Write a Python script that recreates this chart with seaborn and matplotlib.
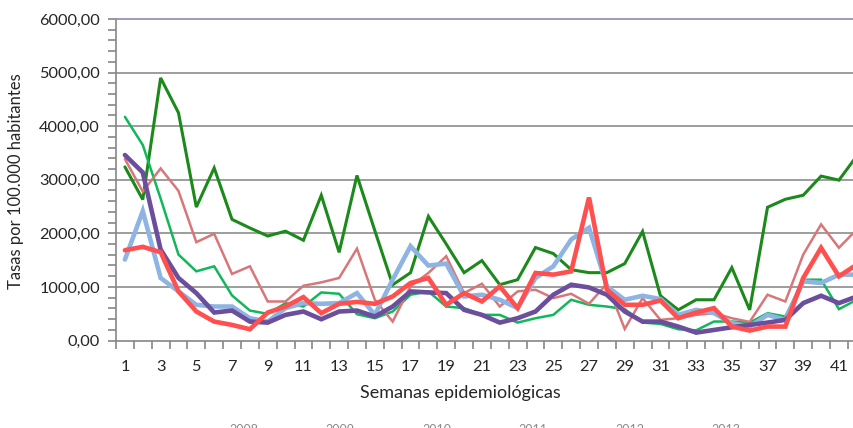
import numpy as np
import pandas as pd
import matplotlib
matplotlib.use("Agg")
import matplotlib.pyplot as plt
import matplotlib.ticker as mticker
import seaborn as sns

weeks = list(range(1, 43))

serie_2008 = [3240, 2630, 4900, 4250, 2490, 3220, 2260, 2100, 1950, 2040, 1870, 2710,
              1645, 3080, 2050, 1040, 1265, 2317, 1800, 1266, 1491, 1041, 1135, 1735,
              1622, 1322, 1266, 1266, 1435, 2036, 835, 572, 760, 760, 1360, 572,
              2486, 2636, 2711, 3068, 2993, 3443]
serie_2009 = [4174, 3649, 2650, 1604, 1291, 1385, 841, 559, 497, 697, 634, 897,
              872, 490, 416, 541, 854, 916, 634, 604, 478, 478, 334, 416,
              478, 760, 666, 634, 585, 334, 310, 210, 190, 354, 354, 334,
              510, 447, 1135, 1135, 585, 760]
serie_2010 = [3386, 2780, 3211, 2792, 1835, 1992, 1242, 1385, 728, 728, 1022, 1085,
              1167, 1715, 760, 353, 1010, 1260, 1573, 885, 1060, 634, 916, 947,
              791, 872, 685, 1060, 216, 791, 385, 416, 478, 510, 416, 347,
              854, 728, 1604, 2167, 1730, 2073]
serie_2011 = [1510, 2416, 1167, 916, 666, 634, 634, 416, 353, 604, 698, 685,
              698, 885, 478, 1135, 1760, 1398, 1435, 822, 854, 760, 604, 1167,
              1385, 1885, 2105, 1010, 760, 835, 773, 478, 572, 510, 322, 260,
              478, 385, 1104, 1073, 1229, 1229]
serie_2012 = [3461, 3136, 1698, 1167, 885, 522, 559, 353, 334, 478, 541, 397,
              541, 559, 447, 634, 916, 897, 885, 572, 478, 334, 416, 541,
              854, 1041, 990, 854, 541, 353, 353, 260, 147, 197, 247, 291,
              334, 385, 698, 835, 698, 822]
serie_2013 = [1685, 1748, 1648, 916, 541, 353, 291, 210, 522, 634, 810, 510,
              685, 720, 685, 822, 1073, 1167, 666, 885, 728, 1010, 604, 1260,
              1229, 1291, 2668, 947, 666, 666, 747, 416, 522, 604, 260, 185,
              260, 260, 1167, 1730, 1198, 1416]

series_labels = ["2008", "2009", "2010", "2011", "2012", "2013"]
series_values = [serie_2008, serie_2009, serie_2010, serie_2011, serie_2012, serie_2013]
series_colors = ["#1B8A1B", "#10B85A", "#D8777A", "#8EB4E3", "#6B4E9C", "#FF4F4F"]
series_widths = [2.2, 1.8, 1.8, 3.3, 3.3, 3.3]

y_ticks = [0, 1000, 2000, 3000, 4000, 5000, 6000]
x_label_weeks = list(range(1, 42, 2))

sns.set_theme(style="white")
plt.rcParams["font.family"] = ["Lato", "DejaVu Sans"]

fig = plt.figure(figsize=(8.54, 4.28), dpi=100)
ax = fig.add_axes([116 / 854, 1 - 340.5 / 428, 1 - 116 / 854, (340.5 - 19) / 428])

for lab, vals, col, lw in zip(series_labels, series_values, series_colors, series_widths):
    sns.lineplot(x=weeks, y=vals, color=col, linewidth=lw, ax=ax, label=lab,
                 solid_joinstyle="miter")

ax.set_xlim(0.5, 0.5 + (854 - 116) / 17.85)
ax.set_ylim(0, 6000)

# y axis
ax.set_yticks(y_ticks)
ax.yaxis.set_major_formatter(mticker.FuncFormatter(lambda v, p: f"{v:.2f}".replace(".", ",")))
ax.yaxis.set_minor_locator(mticker.MultipleLocator(200))
ax.tick_params(axis="y", which="both", direction="out", length=5.5, width=1.2,
               color="#868686", left=True, labelsize=11.8, pad=6, labelcolor="#262626")

# x axis: labels on odd weeks, tick marks on category boundaries
ax.set_xticks(x_label_weeks)
ax.set_xticks(np.arange(0.5, 42.5, 1.0), minor=True)
ax.tick_params(axis="x", which="major", length=0, pad=14, labelsize=11.8, labelcolor="#262626")
ax.tick_params(axis="x", which="minor", direction="out", length=6, width=1.2,
               color="#868686", bottom=True)

# grid
for v in y_ticks[1:-1]:
    ax.axhline(v, color="#8C8C8C", linewidth=1.2, zorder=0.5)
ax.grid(False)

ax.spines["right"].set_visible(False)
ax.spines["top"].set_color("#9890C0")
ax.spines["top"].set_linewidth(1.3)
for side in ["left", "bottom"]:
    ax.spines[side].set_color("#868686")
    ax.spines[side].set_linewidth(1.2)

ax.set_xlabel("Semanas epidemiológicas", fontsize=13, color="#262626")
ax.set_ylabel("Tasas por 100.000 habitantes", fontsize=12, color="#262626")
ax.xaxis.set_label_coords((460 - 116) / (854 - 116), -(393 - 340.5) / (340.5 - 19))
ax.yaxis.set_label_coords(-(116 - 16) / (854 - 116), (340.5 - 181) / (340.5 - 19))
ax.xaxis.label.set_va("center")
ax.yaxis.label.set_va("center")

leg = ax.legend(loc="upper center", ncol=6, frameon=False,
                fontsize=9, handlelength=3.0, columnspacing=1.6)
for t in leg.get_texts():
    t.set_color("#8A8A8A")
leg.set_bbox_to_anchor((0.54, 1 - 413 / 428), transform=fig.transFigure)

fig.savefig("out.png", dpi=100)
